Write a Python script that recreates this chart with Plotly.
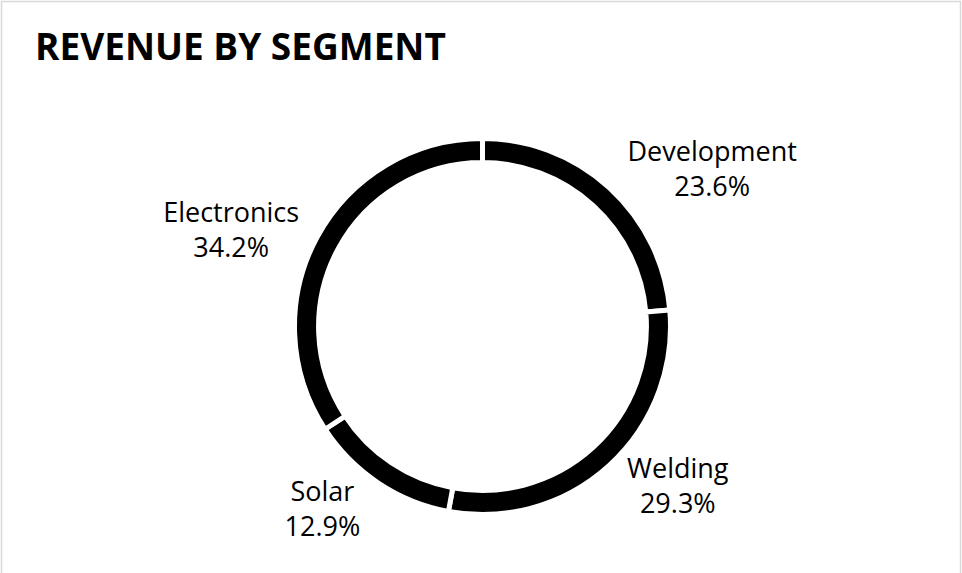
import plotly.graph_objects as go

# Revenue share by business segment (percent of total)
segments = ["Development", "Welding", "Solar", "Electronics"]
shares = [23.6, 29.3, 12.9, 34.2]
title_text = "REVENUE BY SEGMENT"

W, H = 962, 573
cx, cy, r = 482.5, 326.5, 188.0

fig = go.Figure(
    go.Pie(
        labels=segments,
        values=shares,
        sort=False,
        direction="clockwise",
        rotation=0,
        hole=0.872,
        marker=dict(colors=["#000000"] * len(segments),
                    line=dict(color="#ffffff", width=5)),
        texttemplate="%{label}<br>%{value:.1f}%",
        textposition="outside",
        outsidetextfont=dict(family="Open Sans", size=27, color="#000000"),
        showlegend=False,
        hoverinfo="label+value",
        domain=dict(x=[(cx - r) / W, (cx + r) / W],
                    y=[(H - cy - r) / H, (H - cy + r) / H]),
    )
)

fig.update_layout(
    width=W,
    height=H,
    margin=dict(l=0, r=0, t=0, b=0),
    paper_bgcolor="#ffffff",
    plot_bgcolor="#ffffff",
    title=dict(
        text="<b>" + title_text + "</b>",
        x=35 / W, xanchor="left", xref="paper",
        y=1 - 47 / H, yanchor="middle", yref="paper",
        font=dict(family="Open Sans", size=37, color="#000000"),
    ),
    shapes=[dict(type="rect", xref="paper", yref="paper",
                 x0=1.5 / W, x1=(W - 1.5) / W, y0=-0.2, y1=1 - 1.5 / H,
                 line=dict(color="#d9d9d9", width=1.5), fillcolor="rgba(0,0,0,0)")],
)

fig.write_html("out.html")
